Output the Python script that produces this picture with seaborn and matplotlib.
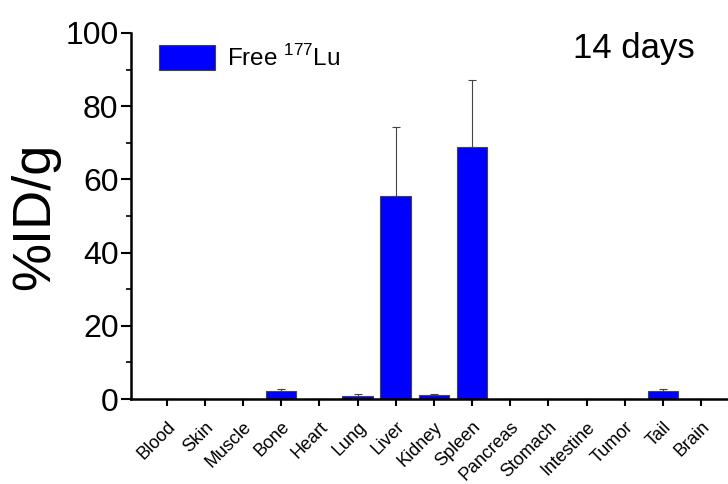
import numpy as np
import seaborn as sns
import matplotlib.pyplot as plt

organs = ['Blood', 'Skin', 'Muscle', 'Bone', 'Heart', 'Lung', 'Liver', 'Kidney',
          'Spleen', 'Pancreas', 'Stomach', 'Intestine', 'Tumor', 'Tail', 'Brain']
uptake = [0, 0, 0, 2.2, 0, 0.9, 55.5, 1.1, 68.8, 0, 0, 0, 0, 2.2, 0]
uptake_sd = [0, 0, 0, 0.5, 0, 0.4, 18.8, 0.3, 18.3, 0, 0, 0, 0, 0.5, 0]

sns.set_style('ticks')
plt.rcParams['font.family'] = ['Liberation Sans', 'DejaVu Sans']
plt.rcParams['mathtext.fontset'] = 'custom'
plt.rcParams['mathtext.rm'] = 'Liberation Sans'
plt.rcParams['text.color'] = 'black'
plt.rcParams['axes.labelcolor'] = 'black'
plt.rcParams['xtick.color'] = 'black'
plt.rcParams['ytick.color'] = 'black'
plt.rcParams['axes.edgecolor'] = 'black'

fig = plt.figure(figsize=(7.28, 4.84), dpi=100)
ax = fig.add_axes([0.18, 0.1756, 0.82, 0.7564])

sns.barplot(x=organs, y=uptake, color='#0000FF', saturation=1, width=0.8,
            edgecolor='#444444', linewidth=0.8, label='Free $^{177}$Lu', ax=ax)

# upper error bars only
pos = np.arange(len(organs))
ax.errorbar(pos, uptake, yerr=[np.zeros(len(organs)), uptake_sd], fmt='none',
            ecolor='#444444', elinewidth=0.8, capsize=3, capthick=0.8)

ax.set_xlim(-0.93, 14.7)
ax.set_ylim(0, 100)
ax.set_yticks(np.arange(0, 101, 20))
ax.set_yticks(np.arange(10, 100, 20), minor=True)
ax.set_ylabel('%ID/g', fontsize=39, labelpad=4)
ax.set_xlabel('')

ax.tick_params(axis='y', which='major', labelsize=23, length=7, width=1.5, pad=2)
ax.tick_params(axis='y', which='minor', length=3.5, width=1.2)
ax.tick_params(axis='x', length=5, width=1.5, labelsize=13, pad=9)
plt.setp(ax.get_xticklabels(), rotation=45, ha='right', rotation_mode='anchor')

sns.despine(ax=ax)
for s in ['left', 'bottom']:
    ax.spines[s].set_linewidth(1.8)

ax.text(0.945, 0.932, '14 days', transform=ax.transAxes, ha='right', va='baseline', fontsize=25)

ax.legend(loc='upper left', bbox_to_anchor=(0.01, 1.027), frameon=False, fontsize=17.5,
          handlelength=2.3, handleheight=1.2, handletextpad=0.5)

fig.savefig('out.png', dpi=100)
